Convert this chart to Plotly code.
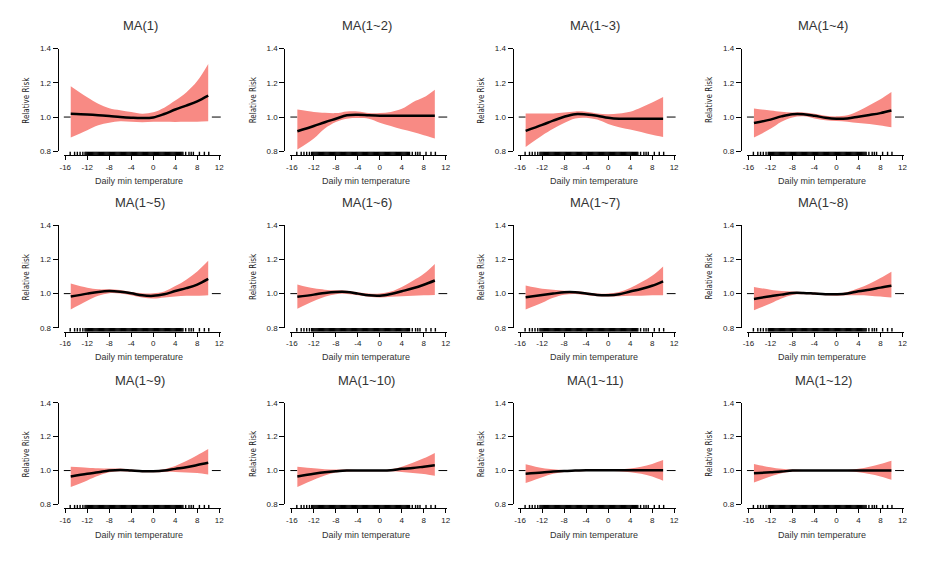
import plotly.graph_objects as go

W, H = 945, 561

TITLES = ["MA(1)", "MA(1~2)", "MA(1~3)", "MA(1~4)",
          "MA(1~5)", "MA(1~6)", "MA(1~7)", "MA(1~8)",
          "MA(1~9)", "MA(1~10)", "MA(1~11)", "MA(1~12)"]

TEMP = [-15, -12, -10, -8, -6, -4, -2, 0, 2, 4, 6, 8, 10]

RR_1 = [1.019, 1.015, 1.011, 1.006, 1.000, 0.996, 0.994, 0.998, 1.018, 1.044, 1.067, 1.092, 1.125]
HI_1 = [1.180, 1.115, 1.077, 1.052, 1.040, 1.030, 1.020, 1.028, 1.055, 1.096, 1.144, 1.210, 1.310]
LO_1 = [0.880, 0.923, 0.952, 0.967, 0.975, 0.972, 0.970, 0.972, 0.972, 0.971, 0.972, 0.973, 0.975]

RR_2 = [0.917, 0.948, 0.970, 0.990, 1.010, 1.013, 1.010, 1.008, 1.008, 1.008, 1.008, 1.008, 1.008]
HI_2 = [1.044, 1.030, 1.025, 1.023, 1.033, 1.033, 1.023, 1.023, 1.030, 1.048, 1.087, 1.115, 1.160]
LO_2 = [0.810, 0.875, 0.933, 0.971, 0.990, 0.994, 0.990, 0.967, 0.948, 0.929, 0.913, 0.894, 0.875]

RR_3 = [0.919, 0.954, 0.979, 1.002, 1.017, 1.015, 1.008, 0.996, 0.990, 0.990, 0.990, 0.990, 0.990]
HI_3 = [1.021, 1.021, 1.021, 1.027, 1.033, 1.031, 1.021, 1.017, 1.021, 1.031, 1.056, 1.085, 1.117]
LO_3 = [0.825, 0.892, 0.931, 0.965, 0.992, 0.996, 0.985, 0.960, 0.940, 0.927, 0.912, 0.896, 0.883]

RR_4 = [0.965, 0.985, 1.004, 1.017, 1.017, 1.008, 0.996, 0.990, 0.992, 1.002, 1.012, 1.023, 1.038]
HI_4 = [1.050, 1.038, 1.031, 1.027, 1.027, 1.019, 1.008, 1.004, 1.010, 1.035, 1.069, 1.104, 1.146]
LO_4 = [0.881, 0.931, 0.973, 0.998, 1.004, 0.992, 0.981, 0.977, 0.973, 0.965, 0.960, 0.950, 0.940]

RR_5 = [0.983, 1.000, 1.010, 1.015, 1.011, 1.002, 0.990, 0.987, 0.996, 1.015, 1.032, 1.053, 1.086]
HI_5 = [1.059, 1.034, 1.025, 1.025, 1.021, 1.010, 1.002, 1.002, 1.013, 1.044, 1.082, 1.130, 1.192]
LO_5 = [0.907, 0.958, 0.987, 1.002, 1.000, 0.990, 0.977, 0.971, 0.977, 0.983, 0.987, 0.987, 0.990]

RR_6 = [0.981, 0.994, 1.004, 1.010, 1.010, 1.000, 0.990, 0.988, 0.998, 1.014, 1.031, 1.052, 1.077]
HI_6 = [1.054, 1.031, 1.023, 1.019, 1.017, 1.008, 1.000, 1.000, 1.012, 1.039, 1.075, 1.116, 1.174]
LO_6 = [0.911, 0.956, 0.981, 0.996, 0.998, 0.990, 0.981, 0.977, 0.981, 0.985, 0.988, 0.990, 0.992]

RR_7 = [0.979, 0.992, 1.000, 1.008, 1.008, 1.000, 0.992, 0.990, 0.996, 1.012, 1.027, 1.046, 1.072]
HI_7 = [1.048, 1.029, 1.023, 1.017, 1.015, 1.008, 1.000, 1.000, 1.010, 1.033, 1.066, 1.104, 1.159]
LO_7 = [0.907, 0.946, 0.975, 0.994, 0.998, 0.992, 0.985, 0.983, 0.985, 0.988, 0.988, 0.990, 0.990]

RR_8 = [0.969, 0.985, 0.994, 1.004, 1.004, 1.000, 0.996, 0.996, 1.000, 1.014, 1.023, 1.035, 1.046]
HI_8 = [1.039, 1.023, 1.015, 1.012, 1.010, 1.006, 1.002, 1.002, 1.010, 1.031, 1.058, 1.091, 1.128]
LO_8 = [0.903, 0.942, 0.971, 0.992, 0.996, 0.994, 0.990, 0.988, 0.990, 0.990, 0.988, 0.983, 0.977]

RR_9 = [0.965, 0.981, 0.990, 1.000, 1.004, 1.000, 0.996, 0.996, 1.000, 1.010, 1.019, 1.033, 1.046]
HI_9 = [1.023, 1.017, 1.014, 1.012, 1.012, 1.006, 1.002, 1.002, 1.008, 1.027, 1.056, 1.091, 1.128]
LO_9 = [0.903, 0.942, 0.969, 0.990, 0.996, 0.994, 0.990, 0.990, 0.992, 0.992, 0.988, 0.985, 0.977]

RR_10 = [0.965, 0.981, 0.990, 0.996, 1.000, 1.000, 1.000, 1.000, 1.002, 1.010, 1.015, 1.023, 1.031]
HI_10 = [1.023, 1.014, 1.008, 1.006, 1.006, 1.004, 1.002, 1.002, 1.008, 1.023, 1.046, 1.072, 1.104]
LO_10 = [0.903, 0.946, 0.971, 0.988, 0.994, 0.996, 0.996, 0.996, 0.996, 0.992, 0.986, 0.979, 0.969]

RR_11 = [0.981, 0.988, 0.994, 0.998, 1.000, 1.002, 1.002, 1.002, 1.002, 1.002, 1.002, 1.002, 1.002]
HI_11 = [1.037, 1.015, 1.008, 1.004, 1.004, 1.004, 1.004, 1.004, 1.006, 1.012, 1.023, 1.039, 1.062]
LO_11 = [0.926, 0.961, 0.981, 0.992, 0.996, 0.998, 0.998, 0.998, 0.996, 0.990, 0.981, 0.965, 0.940]

RR_12 = [0.984, 0.990, 0.994, 1.000, 1.000, 1.000, 1.000, 1.000, 1.000, 1.000, 1.000, 1.000, 1.000]
HI_12 = [1.039, 1.019, 1.010, 1.006, 1.004, 1.004, 1.004, 1.004, 1.004, 1.010, 1.023, 1.039, 1.058]
LO_12 = [0.930, 0.965, 0.984, 0.994, 0.998, 0.998, 0.998, 0.998, 0.998, 0.990, 0.979, 0.965, 0.946]

# observed daily min temperatures (rug)
RUG_TEMPS = [-15.1, -14.3, -13.8, -13.3, -12.8,
             -12.4, -12.2, -12.0, -11.8, -11.6, -11.4, -11.2, -11.0, -10.8, -10.6,
             -10.4, -10.2, -10.0, -9.8, -9.6, -9.4, -9.2, -9.0, -8.8, -8.6,
             -8.4, -8.2, -8.0, -7.8, -7.6, -7.4, -7.2, -7.0, -6.8, -6.6,
             -6.4, -6.2, -6.0, -5.8, -5.6, -5.4, -5.2, -5.0, -4.8, -4.6,
             -4.4, -4.2, -4.0, -3.8, -3.6, -3.4, -3.2, -3.0, -2.8, -2.6,
             -2.4, -2.2, -2.0, -1.8, -1.6, -1.4, -1.2, -1.0, -0.8, -0.6,
             -0.4, -0.2, 0.0, 0.2, 0.4, 0.6, 0.8, 1.0, 1.2, 1.4,
             1.6, 1.8, 2.0, 2.2, 2.4, 2.6, 2.8, 3.0, 3.2, 3.4,
             3.6, 3.8, 4.0, 4.2, 4.4, 4.6, 4.8, 5.0, 5.2, 5.4,
             5.9, 6.5, 6.9, 7.3, 8.4, 9.3, 10.1]

X_TICKS = [-16, -12, -8, -4, 0, 4, 8, 12]
Y_TICKS = [0.8, 1.0, 1.2, 1.4]
Y_TICKTEXT = ["0.8", "1.0", "1.2", "1.4"]
X_TITLE = "Daily min temperature"
Y_TITLE = "Relative Risk"

RRS = [RR_1, RR_2, RR_3, RR_4, RR_5, RR_6, RR_7, RR_8, RR_9, RR_10, RR_11, RR_12]
HIS = [HI_1, HI_2, HI_3, HI_4, HI_5, HI_6, HI_7, HI_8, HI_9, HI_10, HI_11, HI_12]
LOS = [LO_1, LO_2, LO_3, LO_4, LO_5, LO_6, LO_7, LO_8, LO_9, LO_10, LO_11, LO_12]

# layout (pixels)
TOP_PX = [45.3, 225.0, 405.3]
BOT_PX = [149.7, 329.0, 508.6]
TITLE_PX = [22, 202, 383]
XTITLE_PX = [180, 359, 540]
X16_PX = [61.7, 290.0, 520.0, 750.0]
PPU = 5.54
XR = [-16.3, 12.3]
AXIS_GAP = 4   # px between y=0.8 and the x axis line
RUG_LEN = 3.8  # px

BAND = "rgb(248,138,132)"
FONT = "Liberation Sans, Arial, sans-serif"
NARROW = "Liberation Sans Narrow, Arial Narrow, DejaVu Sans Condensed, sans-serif"

# rug drawn as vertical segments from the data values
rug_x, rug_y = [], []
for t in RUG_TEMPS:
    rug_x += [t, t, None]
    rug_y += [0, 1, None]

fig = go.Figure()
layout = dict(width=W, height=H, margin=dict(l=0, r=0, t=0, b=0),
              paper_bgcolor="white", plot_bgcolor="white", showlegend=False,
              font=dict(family=FONT, color="#222"))
annotations = []

for i in range(12):
    r, c = divmod(i, 4)
    n = i + 1
    xa = "x" if n == 1 else f"x{n}"
    ya = "y" if n == 1 else f"y{n}"
    yr = f"y{n + 12}"
    xkey = "xaxis" if n == 1 else f"xaxis{n}"
    ykey = "yaxis" if n == 1 else f"yaxis{n}"
    yrkey = f"yaxis{n + 12}"
    x16 = X16_PX[c]
    x0 = (x16 + (XR[0] + 16) * PPU) / W
    x1 = (x16 + (XR[1] + 16) * PPU) / W
    axis_y = BOT_PX[r] + AXIS_GAP
    layout[xkey] = dict(domain=[x0, x1], range=XR, anchor="free",
                        position=1 - axis_y / H,
                        showline=True, linecolor="black", linewidth=1,
                        ticks="outside", ticklen=4, tickwidth=1, tickcolor="black",
                        tickvals=X_TICKS, ticktext=[str(v) for v in X_TICKS],
                        tickfont=dict(size=8, color="#222"),
                        showgrid=False, zeroline=False, fixedrange=True)
    layout[ykey] = dict(domain=[1 - BOT_PX[r] / H, 1 - TOP_PX[r] / H], range=[0.8, 1.4],
                        anchor="free", position=(x16 - 7.7) / W,
                        showline=True, linecolor="black", linewidth=1,
                        ticks="outside", ticklen=5, tickwidth=1, tickcolor="black",
                        tickvals=Y_TICKS, ticktext=Y_TICKTEXT,
                        tickfont=dict(size=8, color="#222"),
                        showgrid=False, zeroline=False, fixedrange=True)
    layout[yrkey] = dict(domain=[1 - axis_y / H, 1 - (axis_y - RUG_LEN) / H],
                         range=[0, 1], anchor=xa, visible=False, fixedrange=True)

    # reference line (visible outside the band)
    fig.add_trace(go.Scatter(x=[XR[0], TEMP[0], None, XR[1], TEMP[-1]],
                             y=[1, 1, None, 1, 1], mode="lines", xaxis=xa, yaxis=ya,
                             line=dict(color="black", width=1, dash="dash"),
                             hoverinfo="skip"))
    # CI band
    fig.add_trace(go.Scatter(x=TEMP, y=LOS[i], mode="lines", xaxis=xa, yaxis=ya,
                             line=dict(width=0, shape="spline", color=BAND),
                             hoverinfo="skip"))
    fig.add_trace(go.Scatter(x=TEMP, y=HIS[i], mode="lines", xaxis=xa, yaxis=ya,
                             line=dict(width=0, shape="spline", color=BAND),
                             fill="tonexty", fillcolor=BAND, hoverinfo="skip"))
    # estimate
    fig.add_trace(go.Scatter(x=TEMP, y=RRS[i], mode="lines", xaxis=xa, yaxis=ya,
                             line=dict(color="black", width=2.5, shape="spline")))
    # rug
    fig.add_trace(go.Scatter(x=rug_x, y=rug_y, mode="lines", xaxis=xa, yaxis=yr,
                             line=dict(color="black", width=1.4),
                             hoverinfo="skip"))

    annotations.append(dict(text=TITLES[i], xref=xa, yref="paper", x=-2.4,
                            y=1 - TITLE_PX[r] / H, xanchor="center", yanchor="middle",
                            showarrow=False, font=dict(size=13, color="#333", family=FONT)))
    annotations.append(dict(text=X_TITLE, xref=xa, yref="paper", x=-2.6,
                            y=1 - XTITLE_PX[r] / H, xanchor="center", yanchor="middle",
                            showarrow=False, font=dict(size=9, color="#333", family=FONT)))
    annotations.append(dict(text=Y_TITLE, xref="paper", yref="paper",
                            x=(x16 - 7.7 - 31) / W,
                            y=1 - (TOP_PX[r] + BOT_PX[r]) / 2 / H,
                            xanchor="center", yanchor="middle", textangle=-90,
                            showarrow=False, font=dict(size=8, color="#222", family=NARROW)))

layout["annotations"] = annotations
fig.update_layout(**layout)
fig.write_html("out.html", config={"displayModeBar": False},
               post_script="document.body.style.margin='0';document.body.style.overflow='hidden';")
